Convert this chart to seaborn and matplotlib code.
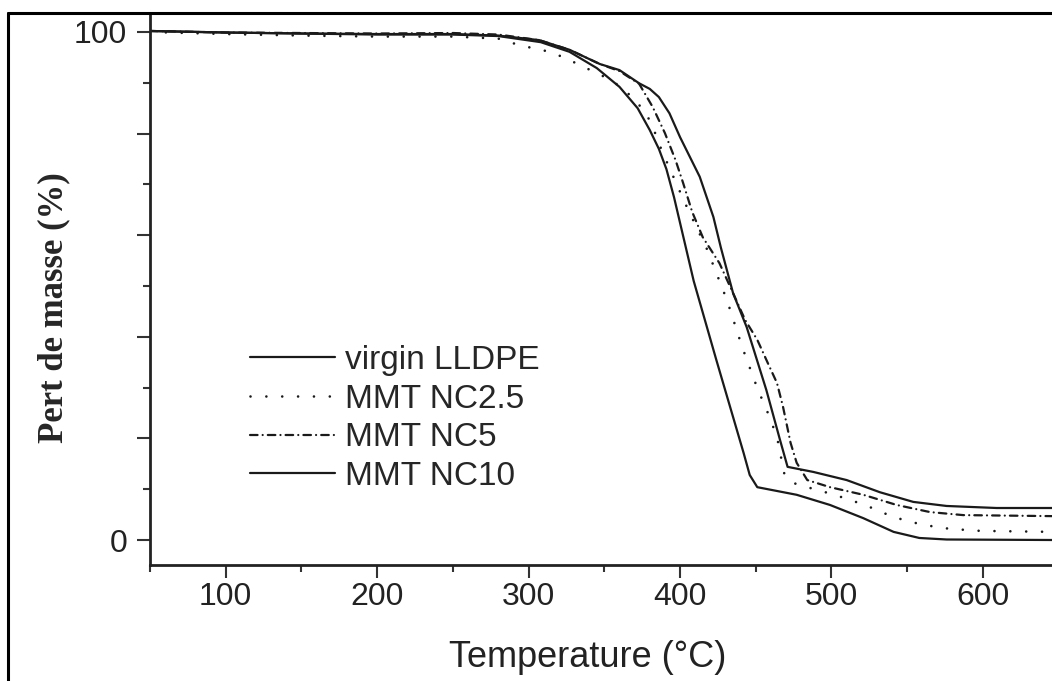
import matplotlib
matplotlib.use("Agg")
import matplotlib.pyplot as plt
import seaborn as sns
import pandas as pd
from matplotlib.lines import Line2D
from matplotlib.ticker import FixedLocator, FuncFormatter

# --- 1. DONNEES (température en °C, perte de masse en %) ---
T_virgin = [50, 100, 150, 200, 250, 280, 308, 327, 345, 360, 372, 380, 386, 391, 396, 409, 424, 442, 446, 451,
            477, 499, 521, 541, 558, 576, 646]
M_virgin = [100.2, 99.9, 99.7, 99.5, 99.5, 99.2, 98.0, 96.1, 92.9, 89.2, 85.0, 80.7, 77.0, 73.0, 67.5, 51.0, 35.4,
            17.1, 12.8, 10.4, 8.9, 6.9, 4.3, 1.6, 0.4, 0.1, 0.0]

T_nc25 = [50, 100, 150, 200, 250, 280, 294, 314, 324, 352, 362, 370, 377, 382, 388, 395, 403, 418, 431, 441, 451,
          458, 464, 469, 475, 484, 502, 522, 541, 560, 578, 598, 646]
M_nc25 = [100.0, 99.6, 99.3, 99.1, 99.1, 98.7, 97.4, 96.1, 94.9, 90.9, 89.0, 86.6, 84.3, 81.3, 76.6, 71.9, 66.5, 57.1,
          47.2, 38.0, 29.9, 25.0, 20.3, 12.8, 11.2, 10.4, 8.9, 6.9, 4.5, 3.0, 2.2, 1.8, 1.6]

T_nc5 = [50, 100, 150, 200, 250, 280, 307, 327, 347, 360, 373, 382, 390, 397, 402, 408, 415, 426, 435, 443, 451,
         458, 464, 468, 473, 477, 484, 499, 521, 543, 565, 587, 646]
M_nc5 = [100.2, 99.9, 99.8, 99.7, 99.8, 99.5, 98.4, 96.5, 93.7, 92.3, 89.8, 85.2, 80.1, 74.8, 70.3, 64.6, 59.6, 54.5,
         48.6, 43.3, 39.4, 34.8, 30.9, 26.2, 19.1, 15.2, 11.8, 10.4, 8.9, 6.9, 5.5, 4.9, 4.7]

T_nc10 = [50, 100, 150, 200, 250, 280, 307, 327, 347, 360, 373, 380, 386, 393, 400, 413, 422, 427, 435, 444, 457,
          466, 471, 488, 510, 532, 554, 576, 609, 646]
M_nc10 = [100.2, 99.9, 99.7, 99.6, 99.6, 99.3, 98.4, 96.5, 93.7, 92.5, 89.9, 88.8, 87.2, 84.0, 79.3, 71.5, 63.6, 57.5,
          48.6, 41.9, 29.5, 19.7, 14.4, 13.4, 11.8, 9.4, 7.5, 6.7, 6.3, 6.3]

NOMS = ['virgin LLDPE', 'MMT NC2.5', 'MMT NC5', 'MMT NC10']

# --- 2. STYLE ---
sns.set_style("ticks")
plt.rcParams['font.family'] = ['Liberation Sans', 'DejaVu Sans']

fig = plt.figure(figsize=(10.52, 6.81), dpi=100)
ax = fig.add_axes([150 / 1052, 1 - 565 / 681, 902 / 1052, 552 / 681])

series = [
    (T_virgin, M_virgin, NOMS[0], dict(linestyle='-', linewidth=1.6)),
    (T_nc25, M_nc25, NOMS[1], dict(linestyle=(0, (0.01, 6)), linewidth=1.9, dash_capstyle='round')),
    (T_nc5, M_nc5, NOMS[2], dict(linestyle=(0, (3.4, 2.3, 0.01, 2.3)), linewidth=1.6, dash_capstyle='round')),
    (T_nc10, M_nc10, NOMS[3], dict(linestyle='-', linewidth=1.6)),
]

for T, M, nom, st in series:
    df = pd.DataFrame({'T': T, 'M': M})
    sns.lineplot(data=df, x='T', y='M', ax=ax, color='#1a1a1a', label=nom, **st)

# --- 3. AXES ---
ax.set_xlim(50, 645.6)
ax.set_ylim(-4.92, 103.74)
ax.spines['top'].set_visible(False)
ax.spines['right'].set_visible(False)
for s in ['left', 'bottom']:
    ax.spines[s].set_linewidth(2.0)
    ax.spines[s].set_color('#222222')

ax.xaxis.set_major_locator(FixedLocator([100, 200, 300, 400, 500, 600]))
ax.xaxis.set_minor_locator(FixedLocator([50, 150, 250, 350, 450, 550]))
ax.yaxis.set_major_locator(FixedLocator([0, 20, 40, 60, 80, 100]))
ax.yaxis.set_minor_locator(FixedLocator([10, 30, 50, 70, 90]))
ax.yaxis.set_major_formatter(FuncFormatter(lambda v, p: f'{int(v)}' if v in (0, 100) else ''))

ax.tick_params(which='major', direction='out', length=9.5, width=1.5, color='#333333',
               labelsize=23, labelcolor='#222222')
ax.tick_params(which='minor', direction='out', length=5, width=1.5, color='#333333')
ax.tick_params(axis='x', which='major', pad=3)
ax.tick_params(axis='y', which='major', pad=7)

ax.set_xlabel('Temperature (°C)', fontsize=26, color='#222222')
ax.xaxis.label.set_va('center')
ax.xaxis.set_label_coords(0.485, -0.168)
ax.set_ylabel('Pert de masse (%)', fontsize=25, fontweight='bold', family=['Liberation Serif'])
ax.yaxis.label.set_va('center')
ax.yaxis.set_label_coords(-0.107, 0.467)

ax.legend(loc='upper left', bbox_to_anchor=(250 / 1052, 1 - 345 / 681), bbox_transform=fig.transFigure,
          frameon=False, fontsize=24, handlelength=2.55, handletextpad=0.3, labelspacing=0.23,
          borderpad=0, borderaxespad=0)

# cadre noir de la figure (bord gauche et haut)
fig.add_artist(Line2D([8 / 1052, 8 / 1052], [0, 1 - 13 / 681], color='k', lw=2.2, transform=fig.transFigure))
fig.add_artist(Line2D([8 / 1052, 1], [1 - 13 / 681, 1 - 13 / 681], color='k', lw=2.2, transform=fig.transFigure))

fig.savefig('out.png', dpi=100)
